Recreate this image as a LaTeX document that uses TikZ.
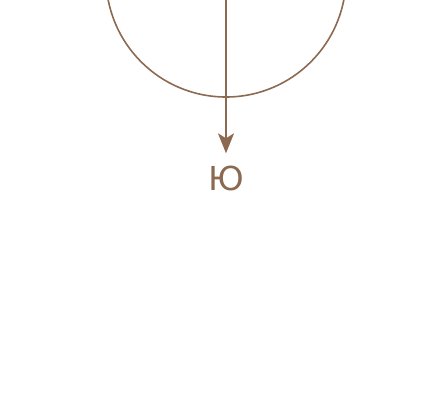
\documentclass[tikz,border=0pt]{standalone}
\usepackage{fontspec}
\setmainfont{DejaVu Sans}
\usetikzlibrary{arrows.meta}
\definecolor{brunclair}{RGB}{140,106,82}

\begin{document}
\begin{tikzpicture}[x=1pt, y=1pt,
    ring/.style={draw=brunclair, line width=1.6pt, circle, minimum size=240pt, inner sep=0pt},
    lettre/.style={text=brunclair, font=\fontsize{33}{36}\selectfont, inner sep=12pt}
]
\useasboundingbox (0,0) rectangle (433,-408);
\clip (0,0) rectangle (433,-408);
% cercle
\node[ring] (ring) at (226,23) {};
% lettre
\node[lettre] (lbl) at (226,-178) {Ю};

\draw[-{Stealth[length=20pt, width=16pt, inset=5pt]}, draw=brunclair, fill=brunclair, line width=1.8pt] (ring.center) -- (lbl.north);
\end{tikzpicture}
\end{document}
